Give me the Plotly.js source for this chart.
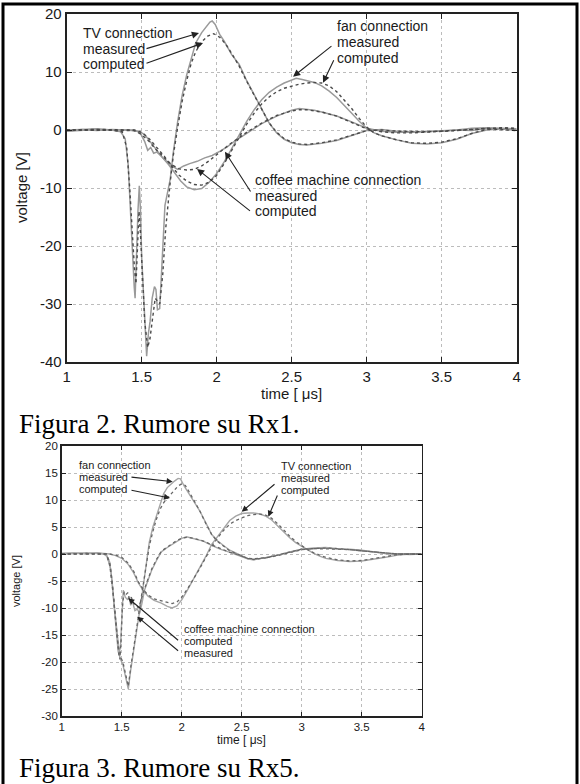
<!DOCTYPE html>
<html>
<head>
<meta charset="utf-8">
<script src="https://cdn.plot.ly/plotly-3.0.1.min.js"></script>
<style>
  html, body { margin: 0; padding: 0; background: #ffffff; }
  #chart { width: 580px; height: 784px; }
</style>
</head>
<body>
<div id="chart"></div>
<script>
// ---------- tick labels ----------
const xTickVals = [1, 1.5, 2, 2.5, 3, 3.5, 4];
const xTickText = ["1", "1.5", "2", "2.5", "3", "3.5", "4"];
const y1TickVals = [-40, -30, -20, -10, 0, 10, 20];
const y1TickText = ["-40", "-30", "-20", "-10", "0", "10", "20"];
const y2TickVals = [-30, -25, -20, -15, -10, -5, 0, 5, 10, 15, 20];
const y2TickText = ["-30", "-25", "-20", "-15", "-10", "-5", "0", "5", "10", "15", "20"];

// ---------- Figura 2 (Rx1) ----------
const tvMeas1T = [1.0,1.1,1.2,1.3,1.36,1.39,1.41,1.425,1.44,1.45,1.456,1.465,1.475,1.484,1.492,1.5,1.51,1.52,1.533,1.545,1.556,1.57,1.585,1.595,1.605,1.62,1.635,1.655,1.69,1.71,1.74,1.77,1.8,1.83,1.86,1.9,1.93,1.955,1.97,1.99,2.02,2.05,2.1,2.15,2.2,2.25,2.3,2.35,2.4,2.45,2.5,2.55,2.6,2.7,2.8,2.9,3.0,3.1,3.2,3.3,3.4,3.5,3.6,3.7,3.8,3.9,4.0];
const tvMeas1V = [-0.2,0.1,0.2,0,-0.3,-1.5,-6,-15,-21,-27,-29,-21,-14,-9.6,-14,-22,-28,-34,-39,-35,-33,-29,-27,-27.5,-31,-30.8,-24,-13,-8.5,-4,1.5,6,9.5,12.5,15,16.8,17.8,18.6,18.8,18.2,16.5,15.3,13,11.3,8.5,6,3.5,1.2,-0.5,-1.6,-2.2,-2.5,-2.6,-2.3,-1.8,-1.0,-0.1,0.1,-0.2,-0.3,-0.3,-0.2,0,-0.1,0.3,0.1,0];
const tvComp1T = [1.0,1.1,1.2,1.3,1.37,1.4,1.42,1.44,1.452,1.462,1.472,1.482,1.492,1.505,1.52,1.54,1.555,1.57,1.59,1.605,1.62,1.64,1.66,1.69,1.71,1.74,1.77,1.8,1.83,1.86,1.9,1.94,1.98,2.02,2.06,2.1,2.15,2.2,2.25,2.3,2.35,2.4,2.45,2.5,2.55,2.6,2.7,2.8,2.9,3.0,3.1,3.2,3.4,3.6,3.8,4.0];
const tvComp1V = [0,0,0.1,0,-0.3,-3,-10,-20,-24,-26.5,-20,-14,-18,-25,-33,-37.5,-36,-33,-29,-29.5,-30,-25,-17,-9,-4.5,0.5,5,8.5,11.5,13.5,15.2,16.2,16.6,16,14.8,13.2,11,8.4,6,3.5,1.2,-0.4,-1.5,-2.1,-2.4,-2.5,-2.2,-1.7,-0.9,-0.1,0,-0.2,-0.3,-0.1,0.2,-0.1];
const fanMeas1T = [1.0,1.1,1.2,1.3,1.4,1.48,1.52,1.56,1.6,1.64,1.68,1.72,1.76,1.8,1.85,1.9,1.95,2.0,2.05,2.1,2.15,2.2,2.25,2.3,2.35,2.4,2.45,2.5,2.53,2.57,2.6,2.65,2.7,2.75,2.8,2.85,2.9,2.95,3.0,3.05,3.1,3.2,3.3,3.4,3.5,3.6,3.7,3.8,3.9,4.0];
const fanMeas1V = [0,0.1,-0.1,0.1,0,-0.2,-0.8,-2.2,-3.5,-4.8,-6,-7.3,-8.8,-9.8,-10.3,-10.1,-9,-7.5,-5.5,-3.2,-0.8,1.5,3.5,5.2,6.5,7.4,8.1,8.6,8.9,8.7,8.5,8.2,7.6,6.7,5.6,4.3,2.9,1.5,0.3,-0.5,-1.0,-1.7,-2.3,-2.4,-2.2,-1.6,-0.6,0,0.2,0];
const fanComp1T = [1.0,1.2,1.45,1.5,1.55,1.6,1.65,1.7,1.75,1.8,1.85,1.9,1.95,2.0,2.05,2.1,2.15,2.2,2.25,2.3,2.35,2.4,2.45,2.5,2.55,2.6,2.65,2.7,2.75,2.8,2.85,2.9,2.95,3.0,3.05,3.1,3.2,3.3,3.4,3.5,3.6,3.7,3.8,3.9,4.0];
const fanComp1V = [0,0.1,0,-0.4,-1.5,-3,-4.5,-6.3,-7.8,-8.8,-9.4,-9.5,-9,-7.8,-5.8,-3.5,-1.2,1,2.9,4.5,5.7,6.6,7.2,7.6,7.9,8.1,8.2,8.1,7.6,6.6,5.2,3.7,2.0,0.5,-0.5,-1.0,-1.7,-2.2,-2.3,-2.1,-1.5,-0.6,0.1,0.4,0.3];
const coffeeMeas1T = [1.0,1.2,1.3,1.45,1.49,1.52,1.54,1.56,1.58,1.6,1.65,1.7,1.74,1.78,1.82,1.87,1.92,1.97,2.02,2.07,2.12,2.2,2.3,2.4,2.5,2.55,2.6,2.65,2.7,2.8,2.9,3.0,3.1,3.2,3.3,3.4,3.5,3.6,3.7,3.8,3.9,4.0];
const coffeeMeas1V = [-0.2,0.1,0,0,-0.5,-2,-3.5,-3,-4,-3.8,-5,-6.2,-6.8,-6.2,-5.8,-5.4,-4.8,-4.4,-3.7,-2.9,-1.9,-0.5,1.1,2.4,3.4,3.7,3.6,3.4,3.1,2.4,1.4,0.3,-0.2,-0.4,-0.4,-0.3,-0.2,0,0.3,0.4,0.3,0.2];
const coffeeComp1T = [1.0,1.3,1.45,1.5,1.55,1.6,1.65,1.7,1.75,1.8,1.85,1.9,1.95,2.0,2.05,2.1,2.2,2.3,2.4,2.5,2.55,2.6,2.7,2.8,2.9,3.0,3.1,3.2,3.3,3.4,3.5,3.6,3.7,3.8,3.9,4.0];
const coffeeComp1V = [0,0,-0.1,-0.8,-2,-3.5,-4.8,-6,-6.7,-6.9,-6.8,-6.2,-5.3,-4.2,-3.2,-2.2,-0.4,1.2,2.5,3.3,3.5,3.5,3.1,2.4,1.3,0.2,-0.3,-0.5,-0.5,-0.4,-0.3,-0.1,0.1,0.3,0.3,0.2];

// ---------- Figura 3 (Rx5) ----------
const fanMeas2T = [1.0,1.1,1.2,1.3,1.35,1.38,1.41,1.43,1.45,1.47,1.49,1.51,1.53,1.555,1.575,1.6,1.625,1.65,1.67,1.7,1.73,1.76,1.79,1.82,1.85,1.88,1.91,1.94,1.97,1.99,2.02,2.06,2.1,2.15,2.2,2.25,2.3,2.35,2.4,2.45,2.5,2.55,2.6,2.7,2.8,2.9,3.0,3.1,3.2,3.3,3.4,3.5,3.6,3.7,3.8,3.9,4.0];
const fanMeas2V = [0.1,0.2,0,0.2,0,-0.5,-3,-8,-13,-18,-19.5,-20.5,-22.5,-25,-21.5,-17.5,-14,-10.5,-7.5,-2.5,2.2,5,7,9,11.2,12.3,13,13.5,14,13.9,12.6,11.2,9.8,8,5.8,3.6,2.4,1.5,0.7,0.2,-0.4,-0.9,-1.0,-0.7,-0.2,0.4,0.9,1.0,1.1,0.9,0.9,0.7,0.4,0.1,0,-0.1,0];
const fanComp2T = [1.0,1.2,1.37,1.4,1.43,1.45,1.47,1.49,1.51,1.53,1.555,1.575,1.6,1.625,1.65,1.67,1.7,1.73,1.76,1.79,1.82,1.85,1.88,1.91,1.94,1.97,2.0,2.03,2.07,2.1,2.15,2.2,2.25,2.3,2.35,2.4,2.45,2.5,2.55,2.6,2.7,2.8,2.9,3.0,3.1,3.2,3.3,3.4,3.5,3.6,3.7,3.8,4.0];
const fanComp2V = [0,0.1,0,-2,-7.5,-12,-17,-19,-20,-22,-24.5,-21,-17,-13.5,-10,-7,-2.8,1.5,4.2,6.5,8.3,9.5,10.3,11,11.8,12.6,13,12.7,11.2,10,8,5.7,3.6,2.3,1.4,0.6,0.1,-0.4,-0.8,-0.9,-0.7,-0.3,0.3,0.8,1.0,1.0,0.9,0.8,0.6,0.3,0.1,0,0];
const coffeeMeas2T = [1.0,1.2,1.3,1.37,1.4,1.42,1.44,1.46,1.47,1.48,1.49,1.5,1.513,1.53,1.55,1.56,1.575,1.59,1.61,1.63,1.65,1.67,1.69,1.72,1.75,1.79,1.83,1.88,1.92,1.96,2.0,2.04,2.08,2.12,2.18,2.25,2.32,2.39,2.45,2.5,2.55,2.6,2.7,2.8,2.9,3.0,3.1,3.2,3.3,3.4,3.5,3.6,3.7,3.8,3.9,4.0];
const coffeeMeas2V = [0.1,0.2,0.1,0,-1.5,-5,-10,-14,-17,-18.3,-17,-11,-6.7,-8,-8.5,-7.8,-9.5,-8.8,-10.5,-10.2,-11,-9,-6.7,-4.8,-3,-1.2,0.4,1.2,1.8,2.4,2.9,3.2,3.0,2.8,2.4,1.6,0.9,0.4,-0.1,-0.5,-0.9,-1.1,-0.7,-0.2,0.4,0.9,1.1,1.2,1.0,0.8,0.7,0.4,0.1,-0.1,0,0];
const coffeeComp2T = [1.0,1.3,1.37,1.4,1.42,1.44,1.46,1.475,1.485,1.495,1.505,1.52,1.535,1.55,1.565,1.58,1.6,1.62,1.64,1.66,1.69,1.72,1.75,1.79,1.83,1.88,1.92,1.96,2.0,2.05,2.1,2.18,2.25,2.32,2.39,2.45,2.5,2.55,2.6,2.7,2.8,2.9,3.0,3.1,3.2,3.3,3.4,3.5,3.6,3.7,3.8,4.0];
const coffeeComp2V = [0,0.1,0,-1.5,-5,-10,-15,-18.5,-19.5,-16,-10,-7,-7.5,-7.2,-8.5,-8,-9.2,-9.5,-10,-8.5,-6.5,-4.6,-2.8,-1.0,0.5,1.3,1.9,2.5,2.9,3.1,2.9,2.4,1.7,1.0,0.4,0,-0.4,-0.8,-1.0,-0.7,-0.2,0.4,0.9,1.0,1.1,1.0,0.8,0.6,0.4,0.1,0,0];
const tvMeas2T = [1.0,1.1,1.2,1.3,1.4,1.45,1.5,1.55,1.6,1.64,1.68,1.72,1.77,1.83,1.88,1.92,1.96,2.0,2.05,2.1,2.15,2.2,2.25,2.3,2.35,2.4,2.45,2.5,2.55,2.6,2.65,2.7,2.75,2.8,2.85,2.9,2.95,3.0,3.05,3.1,3.15,3.2,3.3,3.4,3.5,3.6,3.7,3.8,3.9,4.0];
const tvMeas2V = [0,0.1,0.1,0.2,0,-0.3,-0.8,-1.8,-3.5,-5.4,-6.8,-7.8,-8.6,-9.1,-9.7,-10,-9.6,-8.5,-6.6,-4.6,-2.6,-0.5,1.8,3.3,4.8,6.2,7.0,7.5,7.6,7.6,7.4,7.0,6.3,5.2,4.0,3.0,2.1,1.4,0.7,0.1,-0.4,-0.8,-1.2,-1.4,-1.3,-1.0,-0.6,-0.2,0,0];
const tvComp2T = [1.0,1.2,1.4,1.45,1.5,1.55,1.6,1.64,1.68,1.72,1.77,1.83,1.88,1.92,1.96,2.0,2.05,2.1,2.15,2.2,2.25,2.3,2.35,2.4,2.45,2.5,2.55,2.6,2.65,2.7,2.75,2.8,2.85,2.9,2.95,3.0,3.05,3.1,3.2,3.3,3.4,3.5,3.6,3.7,3.8,4.0];
const tvComp2V = [0,0.1,0,-0.2,-0.6,-1.6,-3.2,-5.2,-6.6,-7.6,-8.3,-8.7,-9.0,-9.2,-8.9,-8.0,-6.4,-4.6,-2.7,-0.7,1.4,3.0,4.4,5.5,6.2,6.7,7.1,7.3,7.4,7.2,6.6,5.6,4.4,3.3,2.3,1.5,0.8,0.2,-0.6,-1.1,-1.3,-1.2,-0.9,-0.5,-0.1,0];

// ---------- styles ----------
const measStyle1 = {color: '#9a9a9a', width: 1.5, dash: 'solid'};
const compStyle1 = {color: '#4a4a4a', width: 1.4, dash: 'dot'};
const measStyle2 = {color: '#a6a6a6', width: 1.4, dash: 'solid'};
const compStyle2 = {color: '#666666', width: 1.3, dash: 'dot'};

function tr(name, x, y, line, xa, ya) {
  return {type: 'scatter', mode: 'lines', name: name, x: x, y: y, line: line,
          xaxis: xa, yaxis: ya, hoverinfo: 'skip'};
}

const traces = [
  tr('TV measured', tvMeas1T, tvMeas1V, measStyle1, 'x', 'y'),
  tr('fan measured', fanMeas1T, fanMeas1V, measStyle1, 'x', 'y'),
  tr('coffee measured', coffeeMeas1T, coffeeMeas1V, measStyle1, 'x', 'y'),
  tr('TV computed', tvComp1T, tvComp1V, compStyle1, 'x', 'y'),
  tr('fan computed', fanComp1T, fanComp1V, compStyle1, 'x', 'y'),
  tr('coffee computed', coffeeComp1T, coffeeComp1V, compStyle1, 'x', 'y'),
  tr('fan measured', fanMeas2T, fanMeas2V, measStyle2, 'x2', 'y2'),
  tr('coffee measured', coffeeMeas2T, coffeeMeas2V, measStyle2, 'x2', 'y2'),
  tr('TV measured', tvMeas2T, tvMeas2V, measStyle2, 'x2', 'y2'),
  tr('fan computed', fanComp2T, fanComp2V, compStyle2, 'x2', 'y2'),
  tr('coffee computed', coffeeComp2T, coffeeComp2V, compStyle2, 'x2', 'y2'),
  tr('TV computed', tvComp2T, tvComp2V, compStyle2, 'x2', 'y2')
];

const W = 580, H = 784;
const px = v => v / W;
const py = v => 1 - v / H;

function axisBase(fs, tlen, lw) {
  return {
    ticks: 'inside', ticklen: tlen, tickwidth: 1, tickcolor: '#222',
    showline: true, linecolor: '#222', linewidth: lw, mirror: 'ticks',
    showgrid: true, gridcolor: '#bcbcbc', griddash: 'dot', gridwidth: 1,
    zeroline: false, fixedrange: true,
    tickfont: {family: 'Liberation Sans, Arial, sans-serif', size: fs, color: '#1a1a1a'}
  };
}

const sans = 'Liberation Sans, Arial, sans-serif';
const serif = 'Liberation Serif, Times New Roman, serif';

function label(text, x, y, xa, ya, fs) {
  return {text: text, x: x, y: y, xref: xa, yref: ya, xanchor: 'left', yanchor: 'middle',
          showarrow: false, font: {family: sans, size: fs, color: '#1a1a1a'}};
}
function arrow(x, y, ax, ay, xa, ya, sz) {
  return {text: '', x: x, y: y, ax: ax, ay: ay, xref: xa, yref: ya, axref: xa, ayref: ya,
          showarrow: true, arrowhead: 2, arrowsize: sz, arrowwidth: 1.1, arrowcolor: '#222', standoff: 0};
}

const annotations = [
  // Figura 2 labels
  label('TV connection', 1.095, 16.8, 'x', 'y', 14),
  label('measured', 1.095, 14.05, 'x', 'y', 14),
  label('computed', 1.095, 11.3, 'x', 'y', 14),
  arrow(1.882, 16.72, 1.522, 13.95, 'x', 'y', 1.3),
  arrow(1.909, 15.0, 1.522, 11.4, 'x', 'y', 1.3),
  label('fan connection', 2.79, 17.95, 'x', 'y', 14),
  label('measured', 2.79, 15.2, 'x', 'y', 14),
  label('computed', 2.79, 12.45, 'x', 'y', 14),
  arrow(2.509, 9.19, 2.775, 14.66, 'x', 'y', 1.3),
  arrow(2.709, 8.16, 2.785, 12.3, 'x', 'y', 1.3),
  label('coffee machine connection', 2.242, -8.55, 'x', 'y', 14),
  label('measured', 2.242, -11.3, 'x', 'y', 14),
  label('computed', 2.242, -14.05, 'x', 'y', 14),
  arrow(2.055, -3.74, 2.232, -10.86, 'x', 'y', 1.3),
  arrow(1.869, -6.72, 2.232, -14.14, 'x', 'y', 1.3),
  // Figura 3 labels
  label('fan connection', 1.1275, 16.48, 'x2', 'y2', 11),
  label('measured', 1.1275, 14.26, 'x2', 'y2', 11),
  label('computed', 1.1275, 12.04, 'x2', 'y2', 11),
  arrow(1.925, 13.39, 1.569, 14.26, 'x2', 'y2', 1.1),
  arrow(1.9025, 10.37, 1.569, 11.85, 'x2', 'y2', 1.1),
  label('TV connection', 2.811, 16.3, 'x2', 'y2', 11),
  label('measured', 2.811, 14.07, 'x2', 'y2', 11),
  label('computed', 2.811, 11.85, 'x2', 'y2', 11),
  arrow(2.5, 7.83, 2.786, 13.15, 'x2', 'y2', 1.1),
  arrow(2.7217, 6.9, 2.8025, 11.1, 'x2', 'y2', 1.1),
  label('coffee machine connection', 2.0025, -13.89, 'x2', 'y2', 11),
  label('computed', 2.0025, -16.2, 'x2', 'y2', 11),
  label('measured', 2.0025, -18.33, 'x2', 'y2', 11),
  arrow(1.555, -8.2, 1.9825, -16.2, 'x2', 'y2', 1.1),
  arrow(1.63, -11.6, 1.9825, -18.15, 'x2', 'y2', 1.1),
  // axis titles
  {text: 'time [ μs]', x: px(291.7), y: py(393), xref: 'paper', yref: 'paper', showarrow: false,
   xanchor: 'center', yanchor: 'middle', font: {family: sans, size: 15, color: '#1a1a1a'}},
  {text: 'voltage [V]', x: px(21), y: py(188), xref: 'paper', yref: 'paper', showarrow: false,
   textangle: -90, xanchor: 'center', yanchor: 'middle', font: {family: sans, size: 15, color: '#1a1a1a'}},
  {text: 'time [ μs]', x: px(241.7), y: py(740), xref: 'paper', yref: 'paper', showarrow: false,
   xanchor: 'center', yanchor: 'middle', font: {family: sans, size: 12, color: '#1a1a1a'}},
  {text: 'voltage [V]', x: px(16), y: py(581), xref: 'paper', yref: 'paper', showarrow: false,
   textangle: -90, xanchor: 'center', yanchor: 'middle', font: {family: sans, size: 11, color: '#1a1a1a'}},
  // captions
  {text: 'Figura 2. Rumore su Rx1.', x: px(17), y: py(424), xref: 'paper', yref: 'paper', showarrow: false,
   xanchor: 'left', yanchor: 'middle', font: {family: serif, size: 27, color: '#000'}},
  {text: 'Figura 3. Rumore su Rx5.', x: px(17), y: py(768), xref: 'paper', yref: 'paper', showarrow: false,
   xanchor: 'left', yanchor: 'middle', font: {family: serif, size: 27, color: '#000'}}
];

const layout = {
  width: W, height: H,
  margin: {l: 0, r: 0, t: 0, b: 0},
  paper_bgcolor: '#ffffff', plot_bgcolor: '#ffffff',
  showlegend: false,
  font: {family: sans, color: '#1a1a1a'},
  xaxis: Object.assign(axisBase(15, 5, 2), {
    domain: [px(66.7), px(516.7)], range: [1, 4], anchor: 'y',
    tickvals: xTickVals, ticktext: xTickText
  }),
  yaxis: Object.assign(axisBase(15, 5, 2), {
    domain: [py(362), py(14)], range: [-40, 20], anchor: 'x',
    tickvals: y1TickVals, ticktext: y1TickText
  }),
  xaxis2: Object.assign(axisBase(11.5, 4, 1.6), {
    domain: [px(61.7), px(421.7)], range: [1, 4], anchor: 'y2',
    tickvals: xTickVals, ticktext: xTickText
  }),
  yaxis2: Object.assign(axisBase(11.5, 4, 1.6), {
    domain: [py(716), py(446)], range: [-30, 20], anchor: 'x2',
    tickvals: y2TickVals, ticktext: y2TickText
  }),
  shapes: [
    {type: 'rect', xref: 'paper', yref: 'paper', x0: px(3), x1: px(577), y0: -0.02, y1: py(4),
     line: {color: '#000', width: 3}, fillcolor: 'rgba(0,0,0,0)'}
  ],
  annotations: annotations
};

Plotly.newPlot('chart', traces, layout, {displayModeBar: false, staticPlot: true});
</script>
</body>
</html>
